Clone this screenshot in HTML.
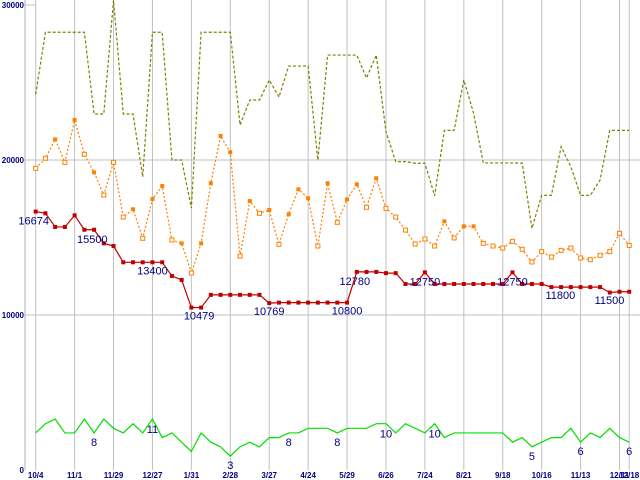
<!DOCTYPE html>
<html><head><meta charset="utf-8"><style>
html,body{margin:0;padding:0;background:#fff;}
svg{display:block;}
text{font-family:"Liberation Sans",sans-serif;}
</style></head><body>
<svg id="chart" width="640" height="480" xmlns="http://www.w3.org/2000/svg"></svg>
<script>
const xTickLabels=["10/4","11/1","11/29","12/27","1/31","2/28","3/27","4/24","5/29","6/26","7/24","8/21","9/18","10/16","11/13","12/11","12/18"];
const xTickIdx=[0,4,8,12,16,20,24,28,32,36,40,44,48,52,56,60,61];
const yTicks=[0,10000,20000,30000];
const minPrice=[16674,16560,15680,15680,16430,15500,15500,14620,14450,13400,13400,13400,13400,13400,12520,12260,10479,10479,11300,11300,11300,11300,11300,11300,10769,10800,10800,10800,10800,10800,10800,10800,10800,12780,12780,12780,12700,12700,12000,12000,12750,12000,12000,12000,12000,12000,12000,12000,12000,12750,12000,12000,12000,11800,11800,11800,11800,11800,11800,11450,11500,11500];
const avgPrice=[19460,20110,21330,19850,22580,20370,19200,17740,19850,16320,16820,14950,17480,18320,14840,14620,12710,14620,18500,21550,20500,13800,17350,16560,16770,14560,16500,18110,17530,14450,18500,15980,17460,18430,16950,18820,16880,16320,15480,14580,14900,14450,16040,14970,15720,15720,14620,14450,14320,14750,14240,13420,14090,13740,14170,14320,13680,13570,13850,14090,15270,14490];
const avgFilled=[0,0,1,0,1,0,1,0,0,0,1,0,1,1,0,1,0,1,1,1,1,0,1,0,1,0,1,1,1,0,1,0,1,1,0,1,0,0,0,0,0,0,1,0,1,1,0,0,0,0,0,0,0,0,0,0,0,0,0,0,0,0];
const maxPrice=[24240,28240,28240,28240,28240,28240,22970,22970,30300,22970,22970,18920,28240,28240,20000,20000,16900,28240,28240,28240,28240,22260,23870,23870,25160,24060,26060,26060,26060,20000,26770,26770,26770,26770,25290,26770,21830,19890,19900,19790,19790,17700,21910,21910,25160,23030,19810,19810,19810,19810,19800,15590,17720,17720,20860,19570,17720,17720,18710,21910,21910,21910];
const shopCount=[8,10,11,8,8,11,8,11,9,8,10,8,11,7,8,6,4,8,6,5,3,5,6,5,7,7,8,8,9,9,9,8,9,9,9,10,10,8,10,9,8,10,7,8,8,8,8,8,8,6,7,5,6,7,7,9,6,8,7,9,7,6];
const priceLabelIdx=[0,5,12,17,24,32,33,40,49,53,60];
const priceLabelDx=[-2,8,0,-2,0,0,-2,0,0,9,-10];
const priceLabelDy=[13,13,12,12,12,12,13,13,13,12,12];
const countLabelIdx=[6,12,20,26,31,36,41,51,56,61];
const countLabelDy=[13,14,13,13,13,14,14,13,13,13];

const svg=document.getElementById('chart');
const NS='http://www.w3.org/2000/svg';
const X0=35.7,DX=9.73,Y0=470,PY=0.0155,CY=4.63;
function xs(i){return X0+DX*i;}
function ys(v){return Y0-v*PY;}
function yc(v){return Y0-v*CY;}
function mk(tag,attrs,parent){const e=document.createElementNS(NS,tag);for(const k in attrs)e.setAttribute(k,attrs[k]);(parent||svg).appendChild(e);return e;}

const grid=mk('g',{});


xTickIdx.forEach((ix,k)=>{
  const l=mk('line',{x1:xs(ix),x2:xs(ix),y1:0,y2:470,stroke:'#c0c0c0','stroke-width':1},grid);
  
  
  const t=mk('text',{x:xs(ix),y:478,'text-anchor':'middle','font-size':8,'font-weight':'bold',fill:'#000080'});
  t.textContent=xTickLabels[k];
  
  
});
yTicks.forEach(v=>{
  if(v>0&&v<30000){
    const l=mk('line',{x1:25,x2:640,y1:ys(v),y2:ys(v),stroke:'#c0c0c0','stroke-width':1},grid);
    
    
  }
  const t=mk('text',{x:24,y:ys(v)+3,'text-anchor':'end','font-size':8,'font-weight':'bold',fill:'#000080'});
  t.textContent=String(v);
  
  
});
const yt=mk('line',{x1:25,x2:36,y1:ys(30000),y2:ys(30000),stroke:'#c0c0c0'},grid);


const ax=mk('line',{x1:25,x2:25,y1:0,y2:470,stroke:'#b0b0b0'},grid);



function poly(vals,f,stroke,dash,name){
  const p=mk('polyline',{points:vals.map((v,i)=>xs(i)+','+f(v)).join(' '),fill:'none',stroke:stroke,'stroke-width':1.2,'stroke-dasharray':dash});
  
  
}
poly(maxPrice,ys,'#808000','3,2','max-price-line');
poly(avgPrice,ys,'#ff8000','2,2','avg-price-line');
poly(minPrice,ys,'#c00000','','min-price-line');
poly(shopCount,yc,'#00e000','','shop-count-line');

avgPrice.forEach((v,i)=>{
  const r=mk('rect',{x:xs(i)-2,y:ys(v)-2,width:4,height:4,fill:avgFilled[i]?'#ff8000':'#fff',stroke:'#ff8000','stroke-width':avgFilled[i]?0:1});
  
  
});
minPrice.forEach((v,i)=>{
  const r=mk('rect',{x:xs(i)-2,y:ys(v)-2,width:4,height:4,fill:'#c00000'});
  
  
});
priceLabelIdx.forEach((ix,k)=>{
  const t=mk('text',{x:xs(ix)+priceLabelDx[k],y:ys(minPrice[ix])+priceLabelDy[k],'text-anchor':'middle','font-size':11,fill:'#000080'});
  t.textContent=String(minPrice[ix]);
  
  
});
countLabelIdx.forEach((ix,k)=>{
  const t=mk('text',{x:xs(ix),y:yc(shopCount[ix])+countLabelDy[k],'text-anchor':'middle','font-size':11,fill:'#000080'});
  t.textContent=String(shopCount[ix]);
  
  
});
</script>
</body></html>
